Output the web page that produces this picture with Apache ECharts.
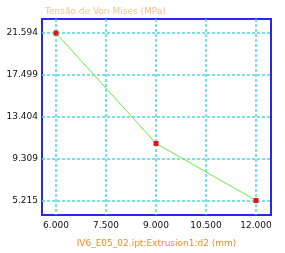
<!DOCTYPE html>
<html><head><meta charset="utf-8">
<script src="https://cdn.jsdelivr.net/npm/echarts@6/dist/echarts.min.js"></script>
<style>html,body{margin:0;padding:0;background:#fff}#c{width:285px;height:253px}</style>
</head><body><div id="c"></div>
<script>
var xValues = [6, 9, 12];
var yValues = [21.594, 10.80, 5.215];
var xTicks = [6.000, 7.500, 9.000, 10.500, 12.000];
var yTicks = [5.215, 9.309, 13.404, 17.499, 21.594];
var titleText = 'Tensão de Von Mises (MPa)';
var xName = 'IV6_E05_02.ipt:Extrusion1:d2 (mm)';

var chart = echarts.init(document.getElementById('c'), null, {renderer: 'canvas'});
var grid = {left: 42, right: 14, top: 19, bottom: 35, show: true, borderColor: '#2828f0', borderWidth: 2, backgroundColor: '#fff'};
var splitStyle = {show: true, lineStyle: {color: '#4ddada', width: 1.5, type: [3, 2]}};
chart.setOption({
  animation: false,
  backgroundColor: '#fff',
  title: {text: titleText, left: 40, top: 2, textStyle: {fontFamily: 'DejaVu Sans', fontSize: 9, fontWeight: 'normal', color: '#f7c08c'}},
  grid: grid,
  xAxis: {
    type: 'value', min: 5.58, max: 12.45,
    name: xName, nameLocation: 'middle', nameGap: 24,
    nameTextStyle: {fontFamily: 'DejaVu Sans', fontSize: 9, color: '#f08a28'},
    axisLine: {show: false}, axisTick: {show: false, customValues: xTicks},
    axisLabel: {customValues: xTicks, fontFamily: 'DejaVu Sans', fontSize: 9, color: '#111', margin: 6,
      formatter: function (v) { return v.toFixed(3); }},
    splitLine: splitStyle
  },
  yAxis: {
    type: 'value', min: 3.80, max: 22.97,
    axisLine: {show: false}, axisTick: {show: false, customValues: yTicks},
    axisLabel: {customValues: yTicks, fontFamily: 'DejaVu Sans', fontSize: 9, color: '#111', margin: 4,
      formatter: function (v) { return v.toFixed(3); }},
    splitLine: splitStyle
  },
  series: [{
    type: 'line',
    data: xValues.map(function (x, i) { return [x, yValues[i]]; }),
    symbol: 'rect', symbolSize: 5,
    itemStyle: {color: '#ee1111'},
    lineStyle: {color: '#66ee44', width: 1},
    z: 5
  }]
});
</script></body></html>
